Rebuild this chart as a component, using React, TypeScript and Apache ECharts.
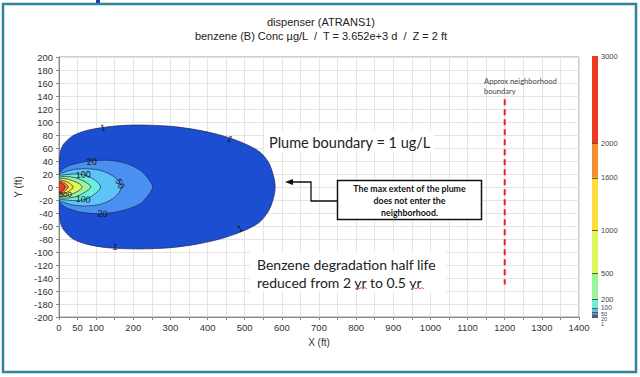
import React, { useEffect, useRef } from "react";
import * as echarts from "echarts";

// ---- axes ----
const xMin = 0;
const xMax = 1400;
const xStep = 50;
const yMin = -200;
const yMax = 200;
const yStep = 20;

// ---- colour scale (µg/L) ----
const levels = [0, 1, 20, 50, 100, 200, 500, 1000, 1600, 2000, 3000];
const bandColors = [
  "#1233A8", "#1C4ED2", "#4A90F0", "#5CC4F7", "#6DEFE0",
  "#98F598", "#DFF75A", "#FFDE3D", "#F39033", "#EE3A21",
];
const colorbarLabels = [1, 20, 50, 100, 200, 500, 1000, 1600, 2000, 3000];
const colorbarAxisLabels = [200, 500, 1000, 1600, 2000, 3000];
const colorbarSmallLabels = [100, 50, 20, 1];
const colorbarSmallLabelY = [307.5, 313.6, 318.9, 324.2];
const colorbarSmallLabelSize = [6.5, 5.5, 5.5, 5.5];

// ---- contour outlines [x ft, y ft] ----
const contour1 = [
  [0, 30], [2, 45], [5, 57], [14, 67], [38, 79], [75, 87], [124, 92], [182, 95],
  [245, 95], [307, 93], [370, 88], [433, 80], [490, 69], [538, 55], [564, 38],
  [577, 18], [582, 0], [577, -18], [564, -37], [538, -55], [490, -69], [433, -80],
  [370, -88], [307, -93], [245, -95], [182, -95], [124, -93], [75, -88], [38, -80],
  [14, -67], [5, -57], [2, -45], [0, -30],
];
const contour20 = [
  [0, 20], [8, 26], [20, 31], [38, 35], [84, 40], [137, 41], [182, 36], [218, 26],
  [240, 13], [252, 0], [240, -13], [218, -26], [173, -36], [117, -41], [60, -39],
  [20, -32], [8, -27], [0, -21],
];
const contour50 = [
  [0, 18], [15, 23], [40, 27], [80, 28], [115, 25], [145, 17], [162, 8], [168, 0],
  [162, -8], [145, -18], [115, -26], [80, -29], [40, -28], [15, -24], [0, -19],
];
const contour100 = [
  [0, 16], [20, 19], [50, 20], [75, 17], [98, 10], [112, 0], [98, -10], [75, -18],
  [50, -21], [20, -20], [0, -17],
];
const contour200 = [
  [0, 14], [20, 16], [45, 14], [70, 8], [86, 0], [70, -8], [45, -15], [20, -17], [0, -15],
];
const contour500 = [
  [0, 12], [15, 13], [35, 10], [55, 5], [62, 0], [55, -5], [35, -11], [15, -14], [0, -13],
];
const contour1000 = [
  [0, 10], [12, 10], [28, 6], [38, 0], [28, -6], [12, -11], [0, -11],
];
const contour1600 = [
  [0, 8], [10, 8], [20, 4], [25, 0], [20, -4], [10, -9], [0, -9],
];
const contour2000 = [
  [0, 6], [8, 6], [14, 3], [17, 0], [14, -3], [8, -7], [0, -7],
];
const contours = [
  contour1, contour20, contour50, contour100, contour200,
  contour500, contour1000, contour1600, contour2000,
];
const contourLevels = [1, 20, 50, 100, 200, 500, 1000, 1600, 2000];

// ---- contour labels ----
const labelX = [118, 460, 487, 151, 88, 117, 164, 65, 65, 17];
const labelY = [91, 74, -64, -92, 39, -41, 5, 19, -19, -12];
const labelText = ["1", "1", "1", "1", "20", "20", "50", "100", "100", "500"];
const labelRot = [12, -28, 30, -8, 5, -5, -62, 5, -5, 0];

// ---- neighborhood boundary ----
const neighborhoodX = 1200;
const neighborhoodY = [135, -150];

const AX_FONT = "Liberation Sans";
const NOTE_FONT = "Lato";

function txt(x: number, y: number, text: string, font: string, fill: string, align = "left", z = 100) {
  return {
    type: "text",
    x,
    y,
    z,
    style: {
      text,
      font,
      fill,
      align,
      verticalAlign: "middle",
      textAlign: align,
      textVerticalAlign: "middle",
    },
  };
}

export default function App() {
  const ref = useRef<HTMLDivElement>(null);

  useEffect(() => {
    if (!ref.current) return;
    const chart = echarts.init(ref.current, undefined, { renderer: "svg" });

    const colorbarSeries = levels.slice(0, -1).map((lv, i) => ({
      type: "bar",
      xAxisIndex: 1,
      yAxisIndex: 1,
      stack: "cb",
      silent: true,
      barWidth: "100%",
      data: [levels[i + 1] - lv],
      itemStyle: { color: bandColors[i] },
      markLine:
        i === 0
          ? {
              silent: true,
              symbol: "none",
              label: { show: false },
              lineStyle: { color: "#6b5a20", width: 1, type: "solid" },
              data: colorbarLabels.slice(0, -1).map((v) => ({ yAxis: v })),
            }
          : undefined,
    }));

    const option: any = {
      animation: false,
      backgroundColor: "#ffffff",
      grid: [
        {
          left: 59, top: 57, width: 520, height: 260,
          show: true, borderColor: "#9a9a9a", borderWidth: 1,
        },
        { left: 592, top: 56, width: 6, height: 261 },
      ],
      xAxis: [
        {
          type: "value", gridIndex: 0, min: xMin, max: xMax, interval: xStep,
          name: "X (ft)", nameLocation: "middle", nameGap: 20,
          nameTextStyle: { fontSize: 10, color: "#333", fontFamily: AX_FONT },
          axisLine: { onZero: false, lineStyle: { color: "#888" } },
          axisTick: { length: 3, lineStyle: { color: "#888" } },
          axisLabel: {
            fontSize: 9.5, color: "#333", margin: 5, fontFamily: AX_FONT,
            formatter: (v: number) => (v === 50 || v % 100 === 0 ? String(v) : ""),
          },
          splitLine: { lineStyle: { color: "#e4e4e4" } },
        },
        { type: "category", gridIndex: 1, data: ["c"], show: false },
      ],
      yAxis: [
        {
          type: "value", gridIndex: 0, min: yMin, max: yMax, interval: yStep,
          name: "Y (ft)", nameLocation: "middle", nameGap: 32, nameRotate: 90,
          nameTextStyle: { fontSize: 10, color: "#333", fontFamily: AX_FONT },
          axisLine: { onZero: false, lineStyle: { color: "#888" } },
          axisTick: { length: 3, lineStyle: { color: "#888" } },
          axisLabel: { fontSize: 9.5, color: "#333", margin: 6, fontFamily: AX_FONT },
          splitLine: { lineStyle: { color: "#e4e4e4" } },
        },
        {
          type: "value", gridIndex: 1, min: 0, max: 3000, position: "right",
          axisLine: { show: false }, axisTick: { show: false }, splitLine: { show: false },
          axisLabel: {
            customValues: colorbarAxisLabels, fontSize: 7.5, color: "#444",
            margin: 3, fontFamily: AX_FONT,
            formatter: (v: number) => String(v),
          },
        },
      ],
      series: [
        {
          type: "custom",
          xAxisIndex: 0,
          yAxisIndex: 0,
          clip: true,
          silent: true,
          data: contours.map((_, i) => [i, 0]),
          renderItem: (params: any, api: any) => {
            const i = params.dataIndex;
            const pts = contours[i].map((p) => api.coord(p));
            const band = levels.indexOf(contourLevels[i]);
            return {
              type: "polygon",
              shape: { points: pts, smooth: 0.3 },
              style: { fill: bandColors[band], stroke: "#1d2550", lineWidth: 0.7 },
            };
          },
        },
        {
          type: "custom",
          xAxisIndex: 0,
          yAxisIndex: 0,
          silent: true,
          z: 4,
          data: labelX.map((x, i) => [x, labelY[i]]),
          renderItem: (params: any, api: any) => {
            const i = params.dataIndex;
            const p = api.coord([labelX[i], labelY[i]]);
            return {
              type: "text",
              x: p[0],
              y: p[1],
              rotation: (labelRot[i] * Math.PI) / 180,
              style: {
                text: labelText[i],
                font: `${i === 9 ? 8 : 9}px "${AX_FONT}"`,
                fill: "#111",
                align: "center",
                verticalAlign: "middle",
                textAlign: "center",
                textVerticalAlign: "middle",
              },
            };
          },
        },
        {
          type: "line",
          xAxisIndex: 0,
          yAxisIndex: 0,
          silent: true,
          symbol: "none",
          z: 5,
          data: neighborhoodY.map((y) => [neighborhoodX, y]),
          lineStyle: { color: "#E3212B", width: 2, type: [6, 4] },
        },
        ...colorbarSeries,
      ],
      graphic: [
        {
          type: "rect", z: 100,
          shape: { x: 3, y: 4, width: 633, height: 368 },
          style: { fill: "none", stroke: "#2F8599", lineWidth: 2.5 },
        },
        { type: "rect", z: 100, shape: { x: 96, y: 0, width: 4, height: 3 }, style: { fill: "#1f3fbf" } },
        txt(321, 22, "dispenser (ATRANS1)", `11px "${AX_FONT}"`, "#222", "center"),
        txt(321, 36, "benzene (B) Conc µg/L  /  T = 3.652e+3 d  /  Z = 2 ft", `11px "${AX_FONT}"`, "#222", "center"),
        // small colour-bar labels near the bottom
        ...colorbarSmallLabels.map((v, i) =>
          txt(601, colorbarSmallLabelY[i], String(v), `${colorbarSmallLabelSize[i]}px "${AX_FONT}"`, "#444")
        ),
        // plume boundary note
        { type: "rect", z: 99, shape: { x: 264, y: 131, width: 170, height: 22 }, style: { fill: "#ffffff" } },
        txt(269, 142, "Plume boundary = 1 ug/L", `14.5px "${NOTE_FONT}"`, "#222"),
        // callout box
        {
          type: "rect", z: 100,
          shape: { x: 337.5, y: 180.5, width: 144, height: 39 },
          style: { fill: "#ffffff", stroke: "#111", lineWidth: 1.5 },
        },
        txt(409.5, 188.5, "The max extent of the plume", `bold 8.8px "${NOTE_FONT}"`, "#111", "center", 101),
        txt(409.5, 200.5, "does not enter the", `bold 8.8px "${NOTE_FONT}"`, "#111", "center", 101),
        txt(409.5, 212.5, "neighborhood.", `bold 8.8px "${NOTE_FONT}"`, "#111", "center", 101),
        {
          type: "polyline", z: 100,
          shape: { points: [[337, 201], [311, 201], [311, 182], [292, 182]] },
          style: { stroke: "#111", lineWidth: 1.3, fill: "none" },
        },
        {
          type: "polygon", z: 100,
          shape: { points: [[285, 182], [293, 179], [293, 185]] },
          style: { fill: "#111" },
        },
        // half-life note
        { type: "rect", z: 99, shape: { x: 250, y: 252, width: 196, height: 40 }, style: { fill: "#ffffff" } },
        txt(257, 264, "Benzene degradation half life", `14px "${NOTE_FONT}"`, "#222"),
        txt(257, 282, "reduced from 2 yr to 0.5 yr", `14px "${NOTE_FONT}"`, "#222"),
        {
          type: "polyline", z: 100,
          shape: { points: [[355, 289], [357, 287.5], [359, 289], [361, 287.5], [363, 289], [365, 287.5], [367, 289]] },
          style: { stroke: "#e03030", lineWidth: 0.8, fill: "none" },
        },
        {
          type: "polyline", z: 100,
          shape: { points: [[412, 289], [414, 287.5], [416, 289], [418, 287.5], [420, 289], [422, 287.5], [424, 289]] },
          style: { stroke: "#e03030", lineWidth: 0.8, fill: "none" },
        },
        // neighborhood label
        txt(484, 80.5, "Approx neighborhood", `7.6px "${NOTE_FONT}"`, "#444"),
        txt(484, 91, "boundary", `7.6px "${NOTE_FONT}"`, "#444"),
      ],
    };

    chart.setOption(option);
    return () => chart.dispose();
  }, []);

  return (
    <div
      ref={ref}
      style={{ position: "absolute", left: 0, top: 0, width: 640, height: 377, background: "#fff" }}
    />
  );
}
